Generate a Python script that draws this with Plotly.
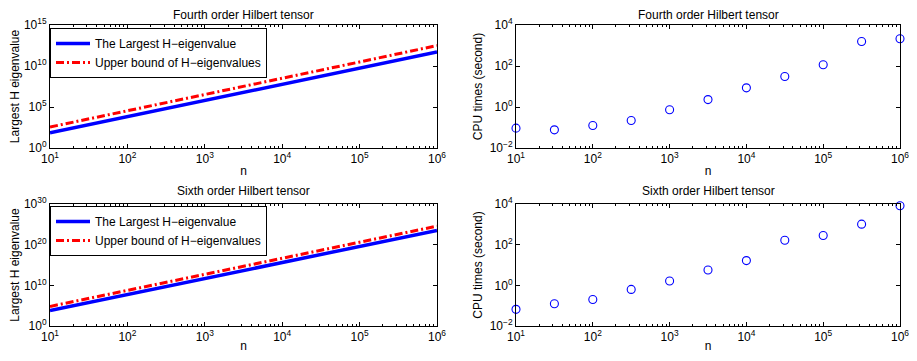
import plotly.graph_objects as go

# ---------------- data ----------------
n_line = [1e1, 1e2, 1e3, 1e4, 1e5, 1e6]
largest4 = [70, 6.6e3, 6.3e5, 6.0e7, 5.6e9, 5.2e11]
upper4 = [3.6e2, 3.3e4, 3.2e6, 3.1e8, 3.1e10, 3.1e12]
largest6 = [6.0e3, 5.0e7, 4.5e11, 4.0e15, 3.6e19, 3.2e23]
upper6 = [6.5e4, 5.5e8, 4.8e12, 4.3e16, 3.9e20, 3.6e24]

n_cpu = [1e1, 3.1623e1, 1e2, 3.1623e2, 1e3, 3.1623e3, 1e4, 3.1623e4, 1e5, 3.1623e5, 1e6]
cpu4 = [0.093, 0.077, 0.126, 0.22, 0.74, 2.3, 8.6, 31, 116, 1580, 2130]
cpu6 = [0.066, 0.125, 0.20, 0.63, 1.63, 5.7, 16.5, 166, 282, 1020, 8200]

# tick labels
x_tickvals = [1e1, 1e2, 1e3, 1e4, 1e5, 1e6]
x_ticktext = ["10<sup>1</sup>", "10<sup>2</sup>", "10<sup>3</sup>", "10<sup>4</sup>", "10<sup>5</sup>", "10<sup>6</sup>"]
y4_tickvals = [1, 1e5, 1e10, 1e15]
y4_ticktext = ["10<sup>0</sup>", "10<sup>5</sup>", "10<sup>10</sup>", "10<sup>15</sup>"]
y6_tickvals = [1, 1e10, 1e20, 1e30]
y6_ticktext = ["10<sup>0</sup>", "10<sup>10</sup>", "10<sup>20</sup>", "10<sup>30</sup>"]
cpu_tickvals = [1e-2, 1, 1e2, 1e4]
cpu_ticktext = ["10<sup>\u22122</sup>", "10<sup>0</sup>", "10<sup>2</sup>", "10<sup>4</sup>"]

titles = ["Fourth order Hilbert tensor", "Sixth order Hilbert tensor"]
legend_names = ["The Largest H\u2212eigenvalue", "Upper bound of H\u2212eigenvalues"]

FONT = "Liberation Sans, Arial, Helvetica, sans-serif"
OFF = 8  # page body margin
W, H = 917 - 2 * OFF, 361 - 2 * OFF
FS = 12

fig = go.Figure()

# top-left
fig.add_trace(go.Scatter(x=n_line, y=largest4, mode="lines", name=legend_names[0],
                         line=dict(color="#0000ff", width=3.5), xaxis="x", yaxis="y", legend="legend"))
fig.add_trace(go.Scatter(x=n_line, y=upper4, mode="lines", name=legend_names[1],
                         line=dict(color="#ff0000", width=3, dash="8px,3px,2px,3px"), xaxis="x", yaxis="y", legend="legend"))
# top-right
fig.add_trace(go.Scatter(x=n_cpu, y=cpu4, mode="markers", showlegend=False, cliponaxis=False,
                         marker=dict(symbol="circle-open", size=8, color="#0000ff", line=dict(width=1.1)),
                         xaxis="x2", yaxis="y2"))
# bottom-left
fig.add_trace(go.Scatter(x=n_line, y=largest6, mode="lines", name=legend_names[0],
                         line=dict(color="#0000ff", width=3.5), xaxis="x3", yaxis="y3", legend="legend2"))
fig.add_trace(go.Scatter(x=n_line, y=upper6, mode="lines", name=legend_names[1],
                         line=dict(color="#ff0000", width=3, dash="8px,3px,2px,3px"), xaxis="x3", yaxis="y3", legend="legend2"))
# bottom-right
fig.add_trace(go.Scatter(x=n_cpu, y=cpu6, mode="markers", showlegend=False, cliponaxis=False,
                         marker=dict(symbol="circle-open", size=8, color="#0000ff", line=dict(width=1.1)),
                         xaxis="x4", yaxis="y4"))

def px_x(p):
    return (p - OFF) / W

def px_y(p):
    return 1 - (p - OFF) / H

xl = [px_x(50), px_x(437)]
xr = [px_x(516), px_x(900)]
yt = [px_y(148), px_y(25)]
yb = [px_y(326), px_y(204)]

def base_axis():
    return dict(type="log", showline=True, linecolor="black", linewidth=1, mirror="ticks",
                ticks="inside", ticklen=4, tickcolor="black", tickwidth=1, automargin=False,
                showgrid=False, zeroline=False, tickmode="array", ticklabeloverflow="allow",
                tickfont=dict(size=FS, color="black", family=FONT))

def xaxis(domain, anchor):
    a = base_axis()
    a.update(domain=domain, anchor=anchor, range=[1, 6],
             tickvals=x_tickvals, ticktext=x_ticktext,
             minor=dict(ticks="inside", ticklen=2, tickcolor="black", dtick="D1", showgrid=False),
             title=dict(text="n", font=dict(size=FS, color="black", family=FONT), standoff=1))
    return a

def yaxis(domain, anchor, rng, vals, texts, title):
    a = base_axis()
    a.update(domain=domain, anchor=anchor, range=rng, tickvals=vals, ticktext=texts,
             title=dict(text=title, font=dict(size=FS, color="black", family=FONT), standoff=4))
    return a

legend_style = dict(xanchor="left", yanchor="top", bordercolor="black", borderwidth=1,
                    bgcolor="white", font=dict(size=FS, color="black", family=FONT),
                    tracegroupgap=0, itemwidth=34)

fig.update_layout(
    template="none",
    width=W, height=H,
    margin=dict(l=0, r=0, t=0, b=0, autoexpand=False),
    paper_bgcolor="white", plot_bgcolor="white",
    font=dict(family=FONT, size=FS, color="black"),
    xaxis=xaxis(xl, "y"),
    yaxis=yaxis(yt, "x", [0, 15], y4_tickvals, y4_ticktext, "Largest H eigenvalue"),
    xaxis2=xaxis(xr, "y2"),
    yaxis2=yaxis(yt, "x2", [-2, 4], cpu_tickvals, cpu_ticktext, "CPU times (second)"),
    xaxis3=xaxis(xl, "y3"),
    yaxis3=yaxis(yb, "x3", [0, 30], y6_tickvals, y6_ticktext, "Largest H eigenvalue"),
    xaxis4=xaxis(xr, "y4"),
    yaxis4=yaxis(yb, "x4", [-2, 4], cpu_tickvals, cpu_ticktext, "CPU times (second)"),
    legend=dict(x=px_x(50), y=px_y(28), **legend_style),
    legend2=dict(x=px_x(50), y=px_y(206), **legend_style),
)

for xc, yc, t in [((xl[0] + xl[1]) / 2, px_y(15), titles[0]),
                  ((xr[0] + xr[1]) / 2, px_y(15), titles[0]),
                  ((xl[0] + xl[1]) / 2, px_y(191), titles[1]),
                  ((xr[0] + xr[1]) / 2, px_y(191), titles[1])]:
    fig.add_annotation(x=xc, y=yc, xref="paper", yref="paper", text=t, showarrow=False,
                       xanchor="center", yanchor="middle",
                       font=dict(size=12, color="black", family=FONT))

fig.write_html("out.html")
